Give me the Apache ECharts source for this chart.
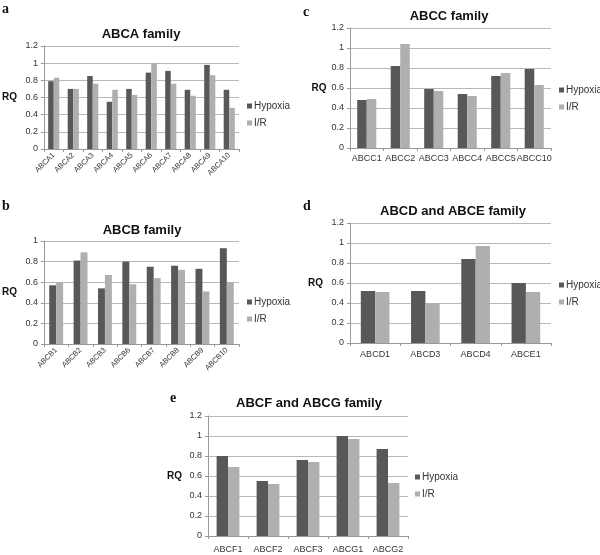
<!DOCTYPE html>
<html><head><meta charset="utf-8">
<script src="https://cdn.jsdelivr.net/npm/echarts@6/dist/echarts.min.js"></script>
<style>html,body{margin:0;padding:0;background:#fff}#c{width:600px;height:555px}</style>
</head><body><div id="c"></div>
<script>
var seriesNames = ['Hypoxia', 'I/R'];

var catsA = ['ABCA1','ABCA2','ABCA3','ABCA4','ABCA5','ABCA6','ABCA7','ABCA8','ABCA9','ABCA10'];
var hypoxiaA = [0.79,0.70,0.85,0.55,0.70,0.89,0.91,0.69,0.98,0.69];
var irA      = [0.83,0.70,0.76,0.69,0.63,1.00,0.76,0.62,0.86,0.48];

var catsB = ['ABCB1','ABCB2','ABCB3','ABCB6','ABCB7','ABCB8','ABCB9','ABCB10'];
var hypoxiaB = [0.57,0.81,0.54,0.80,0.75,0.76,0.73,0.93];
var irB      = [0.60,0.89,0.67,0.58,0.64,0.72,0.51,0.60];

var catsC = ['ABCC1','ABCC2','ABCC3','ABCC4','ABCC5','ABCC10'];
var hypoxiaC = [0.48,0.82,0.59,0.54,0.72,0.79];
var irC      = [0.49,1.04,0.57,0.52,0.75,0.63];

var catsD = ['ABCD1','ABCD3','ABCD4','ABCE1'];
var hypoxiaD = [0.52,0.52,0.84,0.60];
var irD      = [0.51,0.40,0.97,0.51];

var catsE = ['ABCF1','ABCF2','ABCF3','ABCG1','ABCG2'];
var hypoxiaE = [0.80,0.55,0.76,1.00,0.87];
var irE      = [0.69,0.52,0.74,0.97,0.53];

var titles = ['ABCA family','ABCB family','ABCC family','ABCD and ABCE family','ABCF and ABCG family'];
var letters = ['a','b','c','d','e'];
var yMax = [1.2, 1, 1.2, 1.2, 1.2];

var panels = [
  {cats: catsA, h: hypoxiaA, r: irA},
  {cats: catsB, h: hypoxiaB, r: irB},
  {cats: catsC, h: hypoxiaC, r: irC},
  {cats: catsD, h: hypoxiaD, r: irD},
  {cats: catsE, h: hypoxiaE, r: irE}
];

// layout
var grids = [
  {left: 40, top: 46, width: 199, height: 103},
  {left: 40, top: 241, width: 199, height: 103},
  {left: 350, top: 28, width: 201, height: 120},
  {left: 350, top: 223, width: 201, height: 120},
  {left: 208, top: 416, width: 200, height: 120}
];
var titlePos = [[141, 28], [142, 224], [449, 10], [453, 205], [309, 397]];
var letterPos = [[2, 2], [2, 199], [303, 5], [303, 199], [170, 391]];
var legendPos = [[247, 100], [247, 296], [559, 84], [559, 279], [415, 471]];
var nameGaps = [27, 27, 18, 27, 26];
var rotated = [true, true, false, false, false];
var xMargins = [5, 5, 6, 7, 9];

var DARK = '#585858', LIGHT = '#afafaf', TXT = '#333';

var option = {
  backgroundColor: '#fff',
  animation: false,
  title: [], legend: [], grid: [], xAxis: [], yAxis: [], series: []
};

panels.forEach(function (p, i) {
  option.grid.push(grids[i]);
  option.title.push({
    text: titles[i], left: titlePos[i][0], top: titlePos[i][1], textAlign: 'center', padding: 0,
    textStyle: {fontFamily: 'Liberation Sans, Arial, sans-serif', fontWeight: 'bold', fontSize: 13, color: '#111'}
  });
  option.title.push({
    text: letters[i], left: letterPos[i][0], top: letterPos[i][1], padding: 0,
    textStyle: {fontFamily: 'Liberation Serif, Times New Roman, serif', fontWeight: 'bold', fontSize: 14, color: '#111'}
  });
  option.legend.push({
    data: seriesNames, orient: 'vertical', left: legendPos[i][0], top: legendPos[i][1], padding: 0,
    itemWidth: 5, itemHeight: 5, itemGap: 5, icon: 'rect',
    textStyle: {fontFamily: 'Liberation Sans, Arial, sans-serif', fontSize: 10, color: TXT, lineHeight: 12, padding: [0, 0, 0, -3]}
  });
  option.xAxis.push({
    type: 'category', gridIndex: i, data: p.cats,
    axisLine: {lineStyle: {color: '#999', width: 1}},
    axisTick: {show: true, alignWithLabel: false, length: 3, lineStyle: {color: '#999'}},
    axisLabel: {
      interval: 0, hideOverlap: false, rotate: rotated[i] ? 45 : 0, margin: xMargins[i],
      fontFamily: 'Liberation Sans, Arial, sans-serif', fontSize: rotated[i] ? 7.5 : 9, color: TXT
    }
  });
  option.yAxis.push({
    type: 'value', gridIndex: i, min: 0, max: yMax[i], interval: 0.2,
    name: 'RQ', nameLocation: 'middle', nameRotate: 0, nameGap: nameGaps[i],
    nameTextStyle: {fontFamily: 'Liberation Sans, Arial, sans-serif', fontWeight: 'bold', fontSize: 10, color: '#111', align: 'right'},
    axisLine: {show: true, lineStyle: {color: '#999', width: 1}},
    axisTick: {show: true, length: 3, lineStyle: {color: '#999'}},
    splitLine: {show: true, lineStyle: {color: '#b8b8b8', width: 1}},
    axisLabel: {margin: 6, fontFamily: 'Liberation Sans, Arial, sans-serif', fontSize: 9, color: TXT}
  });
  option.series.push({
    name: seriesNames[0], type: 'bar', xAxisIndex: i, yAxisIndex: i, data: p.h,
    itemStyle: {color: DARK}, barGap: '0%', barCategoryGap: '43%'
  });
  option.series.push({
    name: seriesNames[1], type: 'bar', xAxisIndex: i, yAxisIndex: i, data: p.r,
    itemStyle: {color: LIGHT}, barGap: '0%', barCategoryGap: '43%'
  });
});

var chart = echarts.init(document.getElementById('c'), null, {renderer: 'canvas'});
chart.setOption(option);
</script>
</body></html>
